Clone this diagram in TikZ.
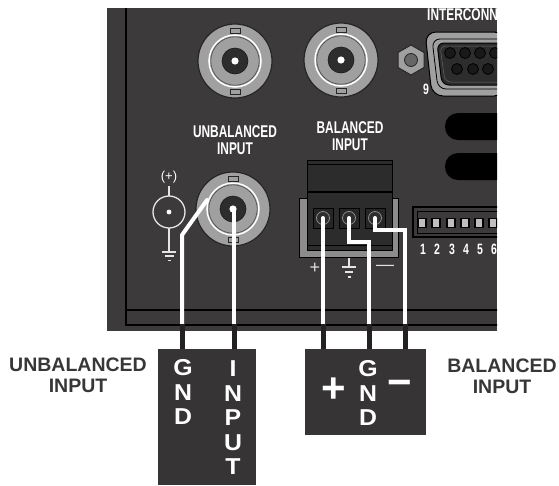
\documentclass[tikz,border=0pt]{standalone}
\usepackage{fontspec}
\setmainfont{Liberation Sans}
\newfontfamily\condfont[FakeStretch=0.7]{Liberation Sans}
\newfontfamily\widefont[FakeStretch=1.08]{Liberation Sans}
\definecolor{panel}{RGB}{60,58,59}
\definecolor{boxc}{RGB}{54,52,53}
\definecolor{ringgray}{RGB}{160,160,160}
\definecolor{bncdark}{RGB}{45,45,45}
\definecolor{blockc}{RGB}{44,44,44}
\definecolor{lblgray}{RGB}{55,55,55}
\definecolor{leadc}{RGB}{35,33,34}
\tikzset{
  panellbl/.style={text=white, font=\condfont\bfseries\fontsize{17}{17}\selectfont, align=center, inner sep=0},
  numlbl/.style={text=white, font=\condfont\bfseries\fontsize{15}{15}\selectfont, inner sep=0},
  outlbl/.style={text=lblgray, font=\bfseries\fontsize{19.5}{21}\selectfont, align=center, inner sep=0},
  boxtxt/.style={text=white, font=\widefont\bfseries\fontsize{23}{24.5}\selectfont, align=center, inner sep=0},
  bigsym/.style={text=white, font=\bfseries\fontsize{42}{42}\selectfont, inner sep=0},
  thinsym/.style={text=white!88!black, font=\fontsize{18}{18}\selectfont, inner sep=0},
  wire/.style={white, line width=4pt, line cap=round, line join=miter},
  lead/.style={leadc, line width=5pt},
  frame/.style={black, line width=2pt},
  sym/.style={white!90!black, line width=1.3pt},
  bnc/.pic={
    \path[fill=ringgray, draw=black!85, line width=1.2pt] (0,0) circle (37);
    \path[draw=white, line width=1.5pt] (0,0) circle (26);
    \path[draw=black!70, line width=0.6pt] (0,0) circle (24.2);
    \path[fill=ringgray, draw=black!85, line width=0.8pt] (-5,-33) rectangle (5,-28);
    \path[fill=ringgray, draw=black!85, line width=0.8pt] (-5,28) rectangle (5,33);
    \path[fill=bncdark, draw=black!90, line width=0.6pt] (0,0) circle (13);
    \path[fill=white] (0,0) circle (3.6);
  },
  screw/.pic={
    \path[fill=black!85, draw=black, line width=0.8pt] (-10,-10) rectangle (10,10);
    \path[fill=bncdark, draw=black!45, line width=0.8pt] (0,0) circle (6.5);
  }
}
\begin{document}
\begin{tikzpicture}[x=1pt,y=-1pt]
\useasboundingbox (0,0) rectangle (559,485);
% panel
\path[fill=panel] (107,8) rectangle (497,331);
\begin{scope}
\clip (107,8) rectangle (497,331);
\draw[frame] (126,8) -- (126,325) -- (500,325);
\draw[frame] (126,310) -- (500,310);
% BNC connectors
\pic at (235,61) {bnc};
\pic at (341,60) {bnc};
\pic at (233,209) {bnc};
% hex nut
\path[fill=ringgray, draw=black!85, line width=1pt] (411,45) -- (424,52.5) -- (424,67.5) -- (411,75) -- (398,67.5) -- (398,52.5) -- cycle;
\path[fill=black!60, draw=black!85, line width=0.8pt] (411,60) circle (6.5);
% D-sub connector
\path[fill=ringgray, draw=black, line width=1pt, rounded corners=11] (505,32) -- (425,32) -- (432,96) -- (505,96) -- cycle;
\path[draw=black, line width=0.8pt, rounded corners=8] (505,39) -- (432,39) -- (438,89) -- (505,89);
\path[fill=bncdark, draw=black, line width=1pt, rounded corners=7] (505,43) -- (437,43) -- (442,85) -- (505,85) -- cycle;
\path[draw=black!60, line width=0.5pt, rounded corners=6] (505,46) -- (440,46) -- (445,82) -- (505,82);
\foreach \px in {450,465,480,495} \path[fill=black!90, draw=black, line width=0.8pt] (\px,53) circle (5.5);
\foreach \px in {457,473,488} \path[fill=black!90, draw=black, line width=0.8pt] (\px,69) circle (5.5);
\node[panellbl, anchor=base west] (inter) at (427,20) {INTERCONNECT};
\node[numlbl] (nine) at (426,89) {9};
% black slots
\path[fill=black, rounded corners=13] (445,113) rectangle (520,140);
\path[fill=black, rounded corners=13] (445,153) rectangle (520,180);
% DIP switch
\path[draw=black, line width=1.6pt] (413,207) rectangle (510,237);
\path[draw=black, line width=1pt] (417,211) rectangle (510,233);
\foreach \px/\n in {422/1,436/2,451/3,465/4,479/5,493/6}{
  \path[fill=black!25, draw=black, line width=1.2pt] (\px-4,218.5) rectangle (\px+4,227.5);
  \node[numlbl] (dip\n) at (\px+1,249) {\n};
}
% panel labels
\node[panellbl] (unbl) at (235,140) {UNBALANCED\\INPUT};
\node[panellbl] (bal) at (350,136) {BALANCED\\INPUT};
% (+) symbol
\node[text=white, font=\fontsize{13}{13}\selectfont, inner sep=0] (plusmark) at (169,177) {(+)};
\draw[sym] (169,212) circle (16);
\path[fill=white] (169,212) circle (2.4);
\draw[sym] (169,186) -- (169,196);
\draw[sym] (169,228) -- (169,251);
\draw[sym] (162,252) -- (176,252);
\draw[sym] (164.5,256) -- (173.5,256);
\draw[sym] (167.5,260.5) -- (170.5,260.5);
% terminal block
\path[fill=black!45, draw=black, line width=1pt] (299,198) rectangle (398,257);
\path[fill=blockc, draw=black, line width=1pt] (307,160) rectangle (392,250);
\draw[black, line width=0.8pt] (307,164) -- (392,164);
\draw[black, line width=1.6pt] (307,192) -- (392,192);
\draw[black, line width=0.8pt] (307,245) -- (392,245);
\pic at (323,218) {screw};
\pic at (349,218) {screw};
\pic at (375,218) {screw};
\coordinate (scrp) at (323,218);
\coordinate (scrg) at (349,218);
\coordinate (scrm) at (375,218);
\node[thinsym] (tplus) at (315,268) {+};
\draw[sym] (349,258) -- (349,266);
\draw[sym] (342,267) -- (356,267);
\draw[sym] (345,272) -- (353,272);
\draw[sym] (347.5,277) -- (350.5,277);
\node[thinsym] (tminus) at (385,268) {—};
% wires
\coordinate (bncring) at (207,200);
\coordinate (bnccore) at (234,209);
\coordinate (wu1) at (182,324);
\coordinate (wu2) at (234,324);
\coordinate (wb1) at (323,324);
\coordinate (wb2) at (369,324);
\coordinate (wb3) at (405,324);
\draw[wire] (bncring) -- (182,235) -- (wu1);
\draw[wire] (bnccore) -- (wu2);
\draw[wire] (scrp) -- (wb1);
\draw[wire] (scrg) -- (349,242) -- (369,242) -- (wb2);
\draw[wire] (scrm) -- (375,230) -- (405,230) -- (wb3);
\end{scope}
% connector boxes
\node[fill=boxc, minimum width=98pt, minimum height=136pt, inner sep=0, anchor=north west] (ubox) at (158,349) {};
\node[fill=boxc, minimum width=121pt, minimum height=86pt, inner sep=0, anchor=north west] (balbox) at (305,349) {};
\draw[lead] (wu1) -- (wu1 |- ubox.north);
\draw[lead] (wu2) -- (wu2 |- ubox.north);
\draw[lead] (wb1) -- (wb1 |- balbox.north);
\draw[lead] (wb2) -- (wb2 |- balbox.north);
\draw[lead] (wb3) -- (wb3 |- balbox.north);
\node[boxtxt] (ugnd) at (183,392) {G\\N\\D};
\node[boxtxt] (uinp) at (233,418) {I\\N\\P\\U\\T};
\node[boxtxt] (bgnd) at (368,393) {G\\N\\D};
\node[bigsym] (bplus) at (334,390) {+};
\node[bigsym] (bminus) at (400,388) {−};
\node[outlbl] (ulbl) at (78,375) {UNBALANCED\\INPUT};
\node[outlbl] (blbl) at (502,376) {BALANCED\\INPUT};
\end{tikzpicture}
\end{document}
